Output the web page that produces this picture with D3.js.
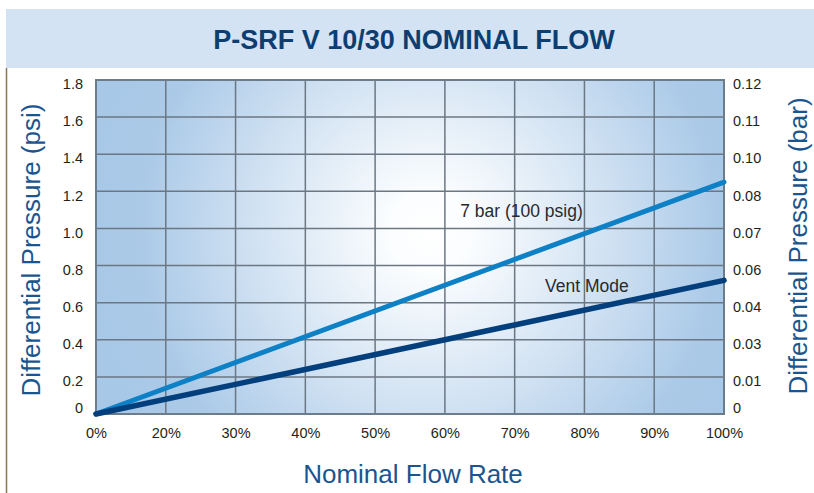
<!DOCTYPE html>
<html>
<head>
<meta charset="utf-8">
<script src="https://cdn.jsdelivr.net/npm/d3@7"></script>
<style>
  html, body { margin: 0; padding: 0; background: #ffffff; }
  svg { display: block; }
  text { font-family: "Liberation Sans", Arial, sans-serif; }
</style>
</head>
<body>
<svg id="chart" width="814" height="493"></svg>
<script>
// ---- data ----
const title = "P-SRF V 10/30 NOMINAL FLOW";
const xLabels = ["0%", "20%", "30%", "40%", "50%", "60%", "70%", "80%", "90%", "100%"];
const psiTicks = [0, 0.2, 0.4, 0.6, 0.8, 1.0, 1.2, 1.4, 1.6, 1.8];
const psiLabels = ["0", "0.2", "0.4", "0.6", "0.8", "1.0", "1.2", "1.4", "1.6", "1.8"];
const barLabels = ["0", "0.01", "0.03", "0.04", "0.06", "0.07", "0.08", "0.10", "0.11", "0.12"];
const seriesNames = ["7 bar (100 psig)", "Vent Mode"];
const seriesFlow = ["0%", "100%"];
const sevenBarValues = [0, 1.25];
const ventModeValues = [0, 0.72];
// label anchors: fraction along flow axis, psi value
const labelPos = [0.58, 0.715];
const labelVal = [1.06, 0.657];

// ---- layout ----
const svg = d3.select("#chart");
const W = 814, H = 493;
const plot = { left: 96, right: 724, top: 80, bottom: 414 };

const x = d3.scalePoint().domain(xLabels).range([plot.left, plot.right]);
const xf = d3.scaleLinear().domain([0, 1]).range([plot.left, plot.right]);
const y = d3.scaleLinear().domain([0, 1.8]).range([plot.bottom, plot.top]);

// title band
svg.append("rect").attr("x", 6).attr("y", 9).attr("width", W - 6).attr("height", 59)
  .attr("fill", "#d4e3f4");
svg.append("text").attr("x", 414).attr("y", 49).attr("text-anchor", "middle")
  .attr("font-size", 27).attr("font-weight", "bold").attr("fill", "#0c3e72")
  .text(title);

// left thin border line
svg.append("line").attr("x1", 6.5).attr("x2", 6.5).attr("y1", 68).attr("y2", H)
  .attr("stroke", "#8a7555").attr("stroke-width", 1.5);

// gradient background
const defs = svg.append("defs");
const grad = defs.append("radialGradient").attr("id", "bg")
  .attr("gradientUnits", "userSpaceOnUse")
  .attr("cx", 430).attr("cy", 232).attr("r", 340);
grad.append("stop").attr("offset", "0").attr("stop-color", "#ffffff");
grad.append("stop").attr("offset", "0.12").attr("stop-color", "#fbfdfe");
grad.append("stop").attr("offset", "0.5").attr("stop-color", "#d3e3f3");
grad.append("stop").attr("offset", "0.85").attr("stop-color", "#abcae8");
grad.append("stop").attr("offset", "1").attr("stop-color", "#a8c8e7");

svg.append("rect").attr("x", plot.left).attr("y", plot.top)
  .attr("width", plot.right - plot.left).attr("height", plot.bottom - plot.top)
  .attr("fill", "url(#bg)");

// grid
const grid = svg.append("g").attr("stroke", "#6b7783").attr("stroke-width", 1.5);
grid.selectAll(".vg").data(xLabels.slice(1, -1)).join("line")
  .attr("x1", d => x(d)).attr("x2", d => x(d))
  .attr("y1", plot.top).attr("y2", plot.bottom);
grid.selectAll(".hg").data(psiTicks.slice(1, -1)).join("line")
  .attr("x1", plot.left).attr("x2", plot.right)
  .attr("y1", d => y(d)).attr("y2", d => y(d));

// border
svg.append("rect").attr("x", plot.left).attr("y", plot.top)
  .attr("width", plot.right - plot.left).attr("height", plot.bottom - plot.top)
  .attr("fill", "none").attr("stroke", "#6b7d8d").attr("stroke-width", 2);

// lines
const line = d3.line().x(d => x(d[0])).y(d => y(d[1]));
const seriesData = [
  { name: seriesNames[0], pts: seriesFlow.map((f, i) => [f, sevenBarValues[i]]), color: "#0d80c6", w: 5 },
  { name: seriesNames[1], pts: seriesFlow.map((f, i) => [f, ventModeValues[i]]), color: "#033f7c", w: 5.5 }
];
svg.selectAll(".series").data(seriesData).join("path")
  .attr("d", d => line(d.pts))
  .attr("fill", "none").attr("stroke", d => d.color).attr("stroke-width", d => d.w)
  .attr("stroke-linecap", "round");

// line labels
svg.selectAll(".lbl").data(seriesNames).join("text")
  .attr("x", (d, i) => xf(labelPos[i])).attr("y", (d, i) => y(labelVal[i]))
  .attr("font-size", 17.5).attr("fill", "#2a2a2a").text(d => d);

// axes
const tickStyle = g => {
  g.select(".domain").remove();
  g.selectAll("text").attr("font-size", 14.5).attr("fill", "#231f20")
    .attr("font-family", "'Liberation Sans', Arial, sans-serif");
};
svg.append("g").attr("transform", `translate(${plot.left},0)`)
  .call(d3.axisLeft(y).tickValues(psiTicks).tickFormat((d, i) => psiLabels[i]).tickSize(0).tickPadding(13))
  .call(tickStyle)
  .call(g => g.selectAll("text").attr("dy", (d, i) => i === 0 ? "-0.1em" : "0.6em"));

svg.append("g").attr("transform", `translate(${plot.right},0)`)
  .call(d3.axisRight(y).tickValues(psiTicks).tickFormat((d, i) => barLabels[i]).tickSize(0).tickPadding(9))
  .call(tickStyle)
  .call(g => g.selectAll("text").attr("dy", (d, i) => i === 0 ? "-0.1em" : "0.6em"));

svg.append("g").attr("transform", `translate(0,${plot.bottom})`)
  .call(d3.axisBottom(x).tickSize(0).tickPadding(14))
  .call(tickStyle);

// axis titles
svg.append("text").attr("transform", "translate(40,250) rotate(-90)")
  .attr("text-anchor", "middle").attr("font-size", 26).attr("fill", "#1b558f")
  .text("Differential Pressure (psi)");
svg.append("text").attr("transform", "translate(807,246) rotate(-90)")
  .attr("text-anchor", "middle").attr("font-size", 26).attr("fill", "#1b558f")
  .text("Differential Pressure (bar)");
svg.append("text").attr("x", 413).attr("y", 483)
  .attr("text-anchor", "middle").attr("font-size", 26).attr("fill", "#1b558f")
  .text("Nominal Flow Rate");
</script>
</body>
</html>
